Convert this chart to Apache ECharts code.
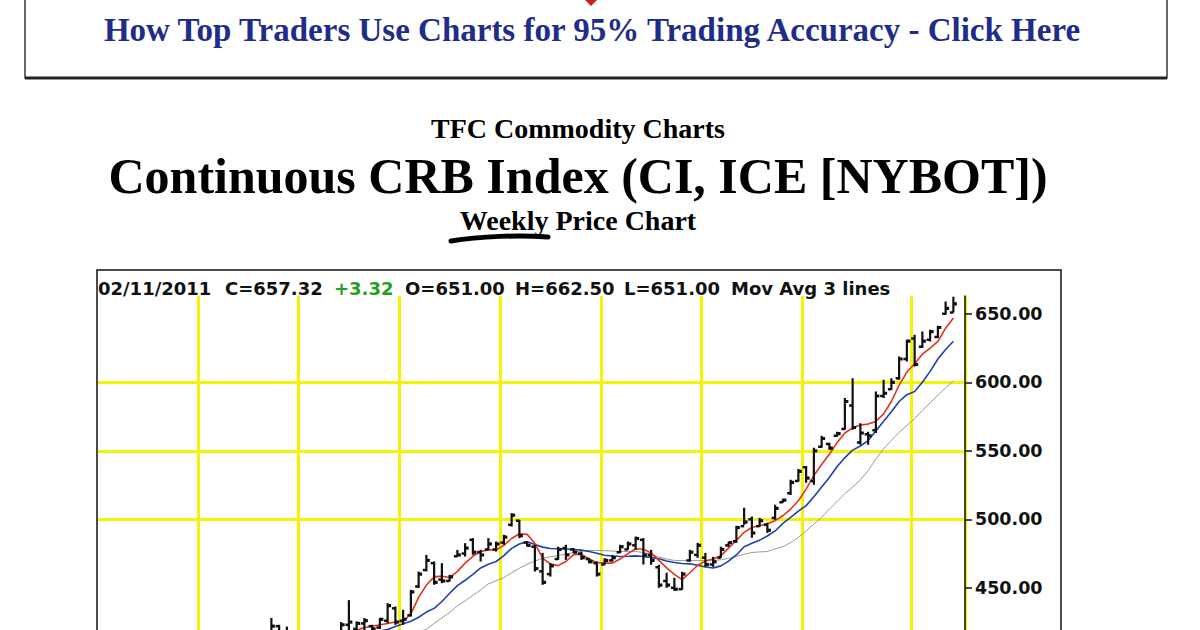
<!DOCTYPE html>
<html>
<head>
<meta charset="utf-8">
<script src="https://cdn.jsdelivr.net/npm/echarts@6/dist/echarts.min.js"></script>
<style>
html,body{margin:0;padding:0;background:#fff;overflow:hidden;}
#wrap{width:1200px;height:630px;overflow:hidden;position:relative;}
#chart{width:1200px;height:900px;}
</style>
</head>
<body>
<div id="wrap"><div id="chart"></div></div>
<script>
// Weekly bars (Friday dates), Jan 2009 - Feb 11 2011, plus one empty slot at the right
const weeks = [
'2009-01-02','2009-01-09','2009-01-16','2009-01-23','2009-01-30','2009-02-06','2009-02-13','2009-02-20','2009-02-27','2009-03-06',
'2009-03-13','2009-03-20','2009-03-27','2009-04-03','2009-04-10','2009-04-17','2009-04-24','2009-05-01','2009-05-08','2009-05-15',
'2009-05-22','2009-05-29','2009-06-05','2009-06-12','2009-06-19','2009-06-26','2009-07-03','2009-07-10','2009-07-17','2009-07-24',
'2009-07-31','2009-08-07','2009-08-14','2009-08-21','2009-08-28','2009-09-04','2009-09-11','2009-09-18','2009-09-25','2009-10-02',
'2009-10-09','2009-10-16','2009-10-23','2009-10-30','2009-11-06','2009-11-13','2009-11-20','2009-11-27','2009-12-04','2009-12-11',
'2009-12-18','2009-12-25','2010-01-01','2010-01-08','2010-01-15','2010-01-22','2010-01-29','2010-02-05','2010-02-12','2010-02-19',
'2010-02-26','2010-03-05','2010-03-12','2010-03-19','2010-03-26','2010-04-02','2010-04-09','2010-04-16','2010-04-23','2010-04-30',
'2010-05-07','2010-05-14','2010-05-21','2010-05-28','2010-06-04','2010-06-11','2010-06-18','2010-06-25','2010-07-02','2010-07-09',
'2010-07-16','2010-07-23','2010-07-30','2010-08-06','2010-08-13','2010-08-20','2010-08-27','2010-09-03','2010-09-10','2010-09-17',
'2010-09-24','2010-10-01','2010-10-08','2010-10-15','2010-10-22','2010-10-29','2010-11-05','2010-11-12','2010-11-19','2010-11-26',
'2010-12-03','2010-12-10','2010-12-17','2010-12-24','2010-12-31','2011-01-07','2011-01-14','2011-01-21','2011-01-28','2011-02-04',
'2011-02-11',''
];

// first weekly bar of each quarter (vertical grid lines)
const quarterStarts = ['2009-04-03','2009-07-03','2009-10-02','2010-01-01','2010-04-02','2010-07-02','2010-10-01','2011-01-07'];

// price-axis tick labels visible in the picture
const priceTicks = [450, 500, 550, 600, 650];

const opens = [
368,365,362,352,350,355,353,346,340,342,
338,350,365,368,372,368,370,372,380,392,
390,400,410,422,418,417,412,403,395,402,
410,416,423,420,424,422,421,426,435,426,
430,451,463,468,456,455,473,475,485,476,
478,478,483,496,499,483,480,462,460,471,
479,478,475,471,468,467,470,476,478,481,
485,474,465,455,450,449,470,474,472,467,
472,481,484,495,500,495,496,501,512.5,519,
528,538,528,553,555,561,566,583,556,562,
565,590,595,603,617,632,626,631,633,650,
651
];
const highs = [
372,370,364,356,360,358,355,348,346,345,
353,368,372,376,375,374,377,384,396,397,
404,414,428,423,421.7,418,414,406,405,413,
418,425,441,425.5,428,423,428,438.8,436.4,434,
448.5,461.9,474,469.2,468,459.5,477.7,482.6,486.3,477.7,
486.3,483.8,488.7,504.5,499.6,483.8,481.4,475.5,468,480,
481.4,479,476.5,471.6,469.2,471.6,474,481.4,483.8,487.4,
486.3,477.7,466.8,461,457.3,461.7,477.7,482.8,475.5,472.6,
480,483.6,495.2,508.4,502,501.1,497.5,510.6,515,528.8,
536.8,539,552.2,561,555.8,564,588.5,603,570.2,564,
593.3,601.8,603,618.8,631,634.7,637.1,638.3,641.2,659,
662.5
];
const lows = [
358,356,348,345,347,348,342,336,334,333,
336,348,362,364,363,364,366,370,378,385,
388,398,408,412,410,406,398,392,393,400,
407,414,414,417,418,416,420,424.2,423,423,
429,449.8,462,452.2,453.4,454.6,472.8,472.8,474,469.2,
477.7,476.5,481.4,494.7,486.3,480.2,461.9,452.2,458.2,470.4,
470.4,475.3,470.4,468,458.2,466.8,469.2,475.3,477.7,477.7,
467,466.8,450,450,447.8,448.5,469,471.9,465.3,465.3,
471.9,479.9,482.8,496,486.5,494.5,490.1,499.6,512,517.8,
527.4,526.6,525.2,552.2,550.7,560.2,565.3,565.3,554.4,554.4,
563,588.5,594.5,601.8,615.2,611.6,625,629.8,632.3,649.3,
651
];
const closes = [
365,362,352,350,355,353,346,340,342,338,
350,365,368,372,368,370,372,380,392,390,
400,410,422,418,417,412,403,395,402,410,
415,423,425,424,426,420,427,437,425,427,
447,460,470,454,455,458,474,479,476,474,
482,482,487,503,488,481,464,454,466,478,
474,476,472,469,460,470,472,480,482,486,
474,470,452,452,449,460,476,481,467,469,
478,483,494,498,490,499,492,508,514,527,
535,530,550,559,552,562.5,586,567,563,561,
590,592,600,617,630,613,630,637,640,654,
657.32
];

// moving averages as drawn
const maRed = [
368,365,360,355,353,354,351,346,343,341,
343,349,358,366,369,370,370,373,379,386,
392,400,409,414,417,415,410,404,401,403,
410,416,418,419,421,422,423,424,425,425.5,
431,443,452,458,458.5,457.5,462,468,473,476.5,
477.7,477.7,481,486,489.5,489,482.5,471.6,467.3,466.2,
469.2,474.2,474.5,471,468.5,468,468,471,475,478.5,
478.2,475.5,470,464.5,459.8,456,461,466.5,469.5,471,
473.5,479,484.5,490.5,494,495.5,496.7,499,502.6,507.5,
513.5,522,532,540,547.5,556,563,566.8,568.8,569.5,
571.4,577,586,598,607.5,613.5,620.5,625,629.8,639.5,
647
];
const maBlue = [
372,370,367,364,361,358,355,352,349,347,
346,346,348,352,356,360,364,367,371,376,
381,387,393,399,404,407,409,409,408,408,
409,410,411.5,413,414.5,416.5,418.5,419.5,421.7,423.8,
425.6,428.5,432.3,435,440,446,451.6,455.5,459.8,464.5,
467.2,469.2,473.5,478.8,482,483.7,481.7,479.7,478.7,478.5,
478.3,478,477.5,476.5,475.2,473.8,473.2,472.9,473,473.3,
472.9,472.2,471.2,469.6,468.5,467.8,467.5,466.5,465.2,464.5,
466,469.5,474,480,482.5,484.8,487.8,491.5,497,501.5,
506,510,516.5,523.5,530.5,538.5,545,550.5,553.5,557.5,
564.5,571.5,578.5,586,591,593.3,600,608,617,624,
630
];
const maGray = [
385,381,377,373,369,366,363,360,357,355,
354,353,353,354,355,357,359,361,364,367,
371,375,379,383,387,391,394,397,400,402,
404,405,406.5,408,409,410,411,412,413.5,415,
416.5,418,419.8,424,428,432,436.8,440.5,444.5,448.5,
452.8,455.2,457.4,461,464.3,467.2,469.5,471.6,472.6,473.6,
474.6,475.7,477,477.2,477.2,477.1,476.8,476.5,476.5,476.5,
475.8,474.5,472.4,471,470,469.9,469.9,469.9,470,470.2,
470.4,471.5,473,474.5,475.8,476.2,476.5,478.5,480,483,
486.8,491.6,496.5,501.5,507.5,513,518.8,523.5,528.8,535.5,
544,551.5,557.5,563.5,568.5,573.5,579.5,585,590.5,596,
601
];

const ohlc = opens.map((o, i) => [i, o, highs[i], lows[i], closes[i]]);

const chart = echarts.init(document.getElementById('chart'), null, {renderer: 'svg'});

const serif = '"Liberation Serif","Times New Roman",serif';
const sans = '"DejaVu Sans",sans-serif';
const GRID_TOP = 296;
const PX_PER_UNIT = 68.5 / 50;
const Y_MIN = 300, Y_MAX = 663;

function txt(x, y, s, font, fill, align) {
  return {type: 'text', x: x, y: y, z: 20,
    style: {text: s, font: font, fill: fill, align: align || 'left', verticalAlign: 'middle',
            textAlign: align || 'left', textVerticalAlign: 'middle'}};
}

const hdrFont = 'bold 18px ' + sans;

chart.setOption({
  animation: false,
  backgroundColor: '#ffffff',
  grid: {left: 97, width: 868, top: GRID_TOP, height: (Y_MAX - Y_MIN) * PX_PER_UNIT, containLabel: false},
  xAxis: {
    type: 'category', data: weeks, boundaryGap: true,
    axisLine: {show: false}, axisTick: {show: false}, axisLabel: {show: false},
    splitLine: {show: true, interval: function (i, v) { return quarterStarts.indexOf(v) >= 0; },
      lineStyle: {color: '#f4f400', width: 3}}
  },
  yAxis: {
    type: 'value', position: 'right', min: Y_MIN, max: Y_MAX, interval: 50,
    axisLine: {show: true, lineStyle: {color: '#111', width: 1.5}},
    axisTick: {show: true, length: 7, customValues: priceTicks, lineStyle: {color: '#111', width: 1.5}},
    axisLabel: {customValues: priceTicks, margin: 10, color: '#111', fontFamily: 'DejaVu Sans', fontWeight: 'bold', fontSize: 17.5,
      formatter: function (v) { return Number(v).toFixed(2); }},
    splitLine: {show: true, showMaxLine: false, showMinLine: false, lineStyle: {color: '#f4f400', width: 3}}
  },
  series: [
    {type: 'line', name: 'MA slow', data: maGray, showSymbol: false, z: 3,
      lineStyle: {color: '#9a9a9a', width: 1}},
    {type: 'line', name: 'MA mid', data: maBlue, showSymbol: false, z: 4,
      lineStyle: {color: '#1f3fb4', width: 1.6}},
    {type: 'line', name: 'MA fast', data: maRed, showSymbol: false, z: 5,
      lineStyle: {color: '#e5321c', width: 1.6}},
    {type: 'custom', name: 'OHLC', data: ohlc, z: 6, clip: true,
      encode: {x: 0, y: [1, 2, 3, 4]},
      renderItem: function (params, api) {
        const x = api.value(0);
        const o = api.coord([x, api.value(1)]);
        const h = api.coord([x, api.value(2)]);
        const l = api.coord([x, api.value(3)]);
        const c = api.coord([x, api.value(4)]);
        const w = 3.5;
        return {type: 'group', children: [
          {type: 'line', shape: {x1: h[0], y1: h[1], x2: l[0], y2: l[1]}, style: {stroke: '#111', lineWidth: 2.2}},
          {type: 'line', shape: {x1: o[0] - w, y1: o[1], x2: o[0], y2: o[1]}, style: {stroke: '#111', lineWidth: 2.5}},
          {type: 'line', shape: {x1: c[0], y1: c[1], x2: c[0] + w, y2: c[1]}, style: {stroke: '#111', lineWidth: 3.2}}
        ]};
      }}
  ],
  graphic: {elements: [
    // banner
    {type: 'rect', z: 10, shape: {x: 25, y: -10, width: 1142, height: 88}, style: {fill: '#fff', stroke: '#3a3a3a', lineWidth: 1.5}},
    {type: 'line', z: 11, shape: {x1: 25, y1: 78, x2: 1167, y2: 78}, style: {stroke: '#222', lineWidth: 3}},
    {type: 'polygon', z: 11, shape: {points: [[585, 0], [597, 0], [591, 6]]}, style: {fill: '#c8201e'}},
    txt(592, 30, 'How Top Traders Use Charts for 95% Trading Accuracy - Click Here', 'bold 33px ' + serif, '#1f2d8a', 'center'),
    // titles
    txt(578, 128, 'TFC Commodity Charts', 'bold 28px ' + serif, '#000', 'center'),
    txt(578, 176, 'Continuous CRB Index (CI, ICE [NYBOT])', 'bold 50px ' + serif, '#000', 'center'),
    txt(578, 220, 'Weekly Price Chart', 'bold 28px ' + serif, '#000', 'center'),
    {type: 'bezierCurve', z: 20, shape: {x1: 451, y1: 241, cpx1: 480, cpy1: 236, cpx2: 520, cpy2: 235, x2: 548, y2: 237},
      style: {stroke: '#000', lineWidth: 5, fill: null, lineCap: 'round'}},
    // chart frame
    {type: 'rect', z: 15, shape: {x: 97, y: 270, width: 964, height: 600}, style: {fill: null, stroke: '#111', lineWidth: 1.5}},
    // header line
    txt(98, 288, '02/11/2011', hdrFont, '#111'),
    txt(225, 288, 'C=657.32', hdrFont, '#111'),
    txt(334, 288, '+3.32', hdrFont, '#22a022'),
    txt(405, 288, 'O=651.00', hdrFont, '#111'),
    txt(515, 288, 'H=662.50', hdrFont, '#111'),
    txt(624, 288, 'L=651.00', hdrFont, '#111'),
    txt(731, 288, 'Mov Avg 3 lines', hdrFont, '#111')
  ]}
});
</script>
</body>
</html>
